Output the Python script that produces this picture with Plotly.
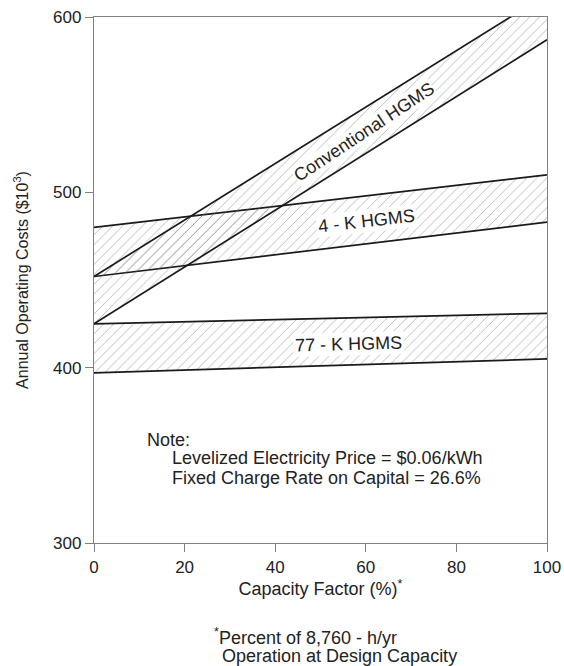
import plotly.graph_objects as go

# Data (x = capacity factor %, y = annual operating cost $10^3)
x_ends = [0, 100]
conv_lower = [425, 587]
conv_upper = [452, 613]
k4_lower = [452, 483]
k4_upper = [480, 510]
k77_lower = [397, 405]
k77_upper = [425, 431]

x_ticks = [0, 20, 40, 60, 80, 100]
y_ticks = [300, 400, 500, 600]

FONT = "Liberation Sans, Arial, sans-serif"
TXT = "#222"
pattern = dict(shape="/", fgcolor="#7a7a7a", bgcolor="rgba(0,0,0,0)", size=7, solidity=0.14)

fig = go.Figure()

def band(lower, upper):
    fig.add_trace(go.Scatter(x=x_ends, y=lower, mode="lines",
                             line=dict(color="#1a1a1a", width=1.7), showlegend=False,
                             hoverinfo="skip"))
    fig.add_trace(go.Scatter(x=x_ends, y=upper, mode="lines",
                             line=dict(color="#1a1a1a", width=1.7), showlegend=False,
                             fill="tonexty", fillcolor="rgba(0,0,0,0)",
                             fillpattern=pattern, hoverinfo="skip"))

band(k77_lower, k77_upper)
band(k4_lower, k4_upper)
band(conv_lower, conv_upper)

label_font = dict(family=FONT, size=18, color=TXT)
fig.add_annotation(x=59.6, y=534.5, text="Conventional HGMS", textangle=-33.5, showarrow=False,
                   font=label_font, bgcolor="white", borderpad=0)
fig.add_annotation(x=60.2, y=483.5, text="4 - K HGMS", textangle=-6.5, showarrow=False,
                   font=label_font, bgcolor="white", borderpad=1)
fig.add_annotation(x=56.2, y=413.5, text="77 - K HGMS", textangle=-1.5, showarrow=False,
                   font=label_font, bgcolor="white", borderpad=1)

note_font = dict(family=FONT, size=18, color=TXT)
fig.add_annotation(x=11.3, y=359, text="Note:", showarrow=False, xanchor="left",
                   font=note_font)
fig.add_annotation(x=16.8, y=348.5, text="Levelized Electricity Price = $0.06/kWh",
                   showarrow=False, xanchor="left", font=note_font)
fig.add_annotation(x=16.8, y=337.2, text="Fixed Charge Rate on Capital = 26.6%",
                   showarrow=False, xanchor="left", font=note_font)

fig.add_annotation(xref="paper", yref="paper", x=0.2615, y=-0.1776, xanchor="left",
                   yanchor="middle", showarrow=False,
                   text="<sup>*</sup>Percent of 8,760 - h/yr", font=note_font)
fig.add_annotation(xref="paper", yref="paper", x=0.2775, y=-0.2156, xanchor="left",
                   yanchor="middle", showarrow=False,
                   text="Operation at Design Capacity", font=note_font)

axis_common = dict(showline=True, linecolor="#808080", linewidth=1.3, mirror=True,
                   ticks="outside", tickcolor="#808080", ticklen=8, tickwidth=1.3,
                   showgrid=False, zeroline=False, automargin=False,
                   ticklabeloverflow="allow",
                   tickfont=dict(family=FONT, size=17, color=TXT))

fig.update_xaxes(range=[0, 100], tickvals=x_ticks, **axis_common,
                 title=dict(text="Capacity Factor (%)<sup>*</sup>",
                            font=dict(family=FONT, size=18, color=TXT), standoff=2))
fig.update_yaxes(range=[300, 600], tickvals=y_ticks, **axis_common,
                 title=dict(text="Annual Operating Costs ($10<sup>3</sup>)",
                            font=dict(family=FONT, size=16, color=TXT), standoff=20))

fig.update_layout(width=564, height=666, plot_bgcolor="white", paper_bgcolor="white",
                  margin=dict(l=94, r=17, t=17, b=122.5), showlegend=False)

# remove the default page margin so the figure fills the window exactly
fig.write_html("out.html", config={"displayModeBar": False},
               post_script="document.body.style.margin='0';document.body.style.overflow='hidden';")
